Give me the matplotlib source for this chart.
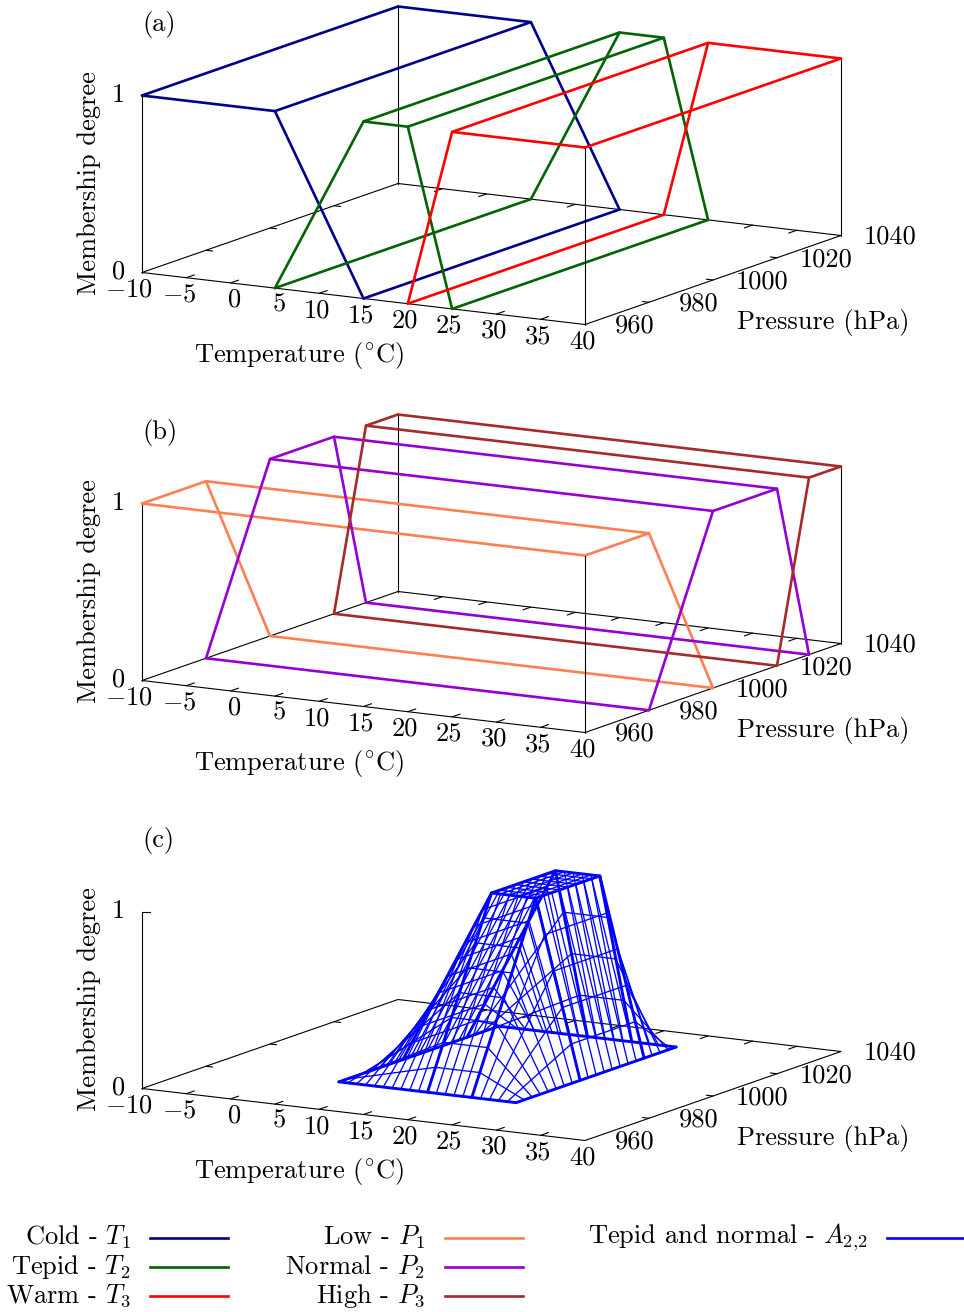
"""
Membership functions for temperature and pressure, and their product surface
"""
import matplotlib
matplotlib.use('Agg')
import matplotlib.pyplot as plt
import numpy as np

plt.rcParams['font.family'] = ['cmr10', 'DejaVu Sans']
plt.rcParams['mathtext.fontset'] = 'cm'
plt.rcParams['axes.unicode_minus'] = False

# Axis ticks
temp_ticks = [-10, -5, 0, 5, 10, 15, 20, 25, 30, 35, 40]
temp_labels = ['$-10$', '$-5$', '0', '5', '10', '15', '20', '25', '30', '35', '40']
pres_ticks = [960, 980, 1000, 1020, 1040]

# Temperature memberships
cold_t = [-10, 5, 15]
cold_mu = [1, 1, 0]
tepid_t = [5, 15, 20, 25]
tepid_mu = [0, 1, 1, 0]
warm_t = [20, 25, 40]
warm_mu = [0, 1, 1]

# Pressure memberships
low_p = [960, 980, 1000]
low_mu = [1, 1, 0]
normal_p = [980, 1000, 1020, 1030]
normal_mu = [0, 1, 1, 0]
high_p = [1020, 1030, 1040]
high_mu = [0, 1, 1]

# Mesh of panel (c)
grid_t = [5, 6, 7, 8, 9, 10, 11, 12, 13, 14, 15, 16, 17, 18, 19, 20, 21, 22, 23, 24, 25]
grid_t_mu = [0, .1, .2, .3, .4, .5, .6, .7, .8, .9, 1, 1, 1, 1, 1, 1, .8, .6, .4, .2, 0]
grid_p = [980, 982.5, 985, 987.5, 990, 992.5, 995, 997.5, 1000, 1002.5, 1005, 1007.5,
          1010, 1012.5, 1015, 1017.5, 1020, 1022.5, 1025, 1027.5, 1030]
grid_p_mu = [0, .125, .25, .375, .5, .625, .75, .875, 1, 1, 1, 1,
             1, 1, 1, 1, 1, .75, .5, .25, 0]
thick_t = [5, 15, 20, 25]
thick_p = [980, 1000, 1020, 1030]

# Legend
names_t = ['Cold - $T_1$', 'Tepid - $T_2$', 'Warm - $T_3$']
cols_t = ['#00008b', '#006400', '#ff0000']
names_p = ['Low - $P_1$', 'Normal - $P_2$', 'High - $P_3$']
cols_p = ['#ff7f50', '#9400d3', '#a52a2a']
name_a = 'Tepid and normal - $A_{2{,}2}$'
col_a = '#0000ff'

FS = 19.05
LW = 1.9
T0, T1 = -10, 40
P0, P1 = 960, 1040


# Oblique projection of (T, P, z) to figure pixels
def project(t, p, z, dy):
    t = np.asarray(t, dtype=float)
    p = np.asarray(p, dtype=float)
    z = np.asarray(z, dtype=float)
    ft = (t - T0) / (T1 - T0)
    fp = (p - P0) / (P1 - P0)
    return 142 + 443 * ft + 256 * fp, 272.5 + dy + 52 * ft - 89 * fp - 177 * z


def line3(ax, t, p, z, dy, **kw):
    x, y = project(t, p, z, dy)
    ax.plot(x, y, solid_capstyle='round', solid_joinstyle='round', **kw)


def frame(ax, dy, label, walls=True):
    k = dict(color='black', lw=0.8, zorder=1)
    line3(ax, [T0, T1, T1, T0, T0], [P0, P0, P1, P1, P0], [0] * 5, dy, **k)
    for t in temp_ticks[1:-1]:
        line3(ax, [t, t], [P0, P0 + 2.5], [0, 0], dy, **k)
        line3(ax, [t, t], [P1, P1 - 2.5], [0, 0], dy, **k)
    for p in pres_ticks[1:-1]:
        line3(ax, [T0, T0 + 0.75], [p, p], [0, 0], dy, **k)
        line3(ax, [T1, T1 - 0.75], [p, p], [0, 0], dy, **k)
    # Membership axis
    line3(ax, [T0, T0], [P0, P0], [0, 1], dy, **k)
    x, y = project(T0, P0, 1, dy)
    ax.plot([x, x + 8], [y, y], **k)
    if walls:
        line3(ax, [T0, T0], [P1, P1], [0, 1], dy, **k)
        line3(ax, [T1, T1], [P1, P1], [0, 1], dy, **k)
        line3(ax, [T1, T1], [P0, P0], [0, 1], dy, color='black', lw=0.8, zorder=4)
    # Tick labels
    for t, s in zip(temp_ticks, temp_labels):
        x, y = project(t, P0, 0, dy)
        ax.text(x + 10.5, y + 17, s, ha='right', va='center', fontsize=FS)
    for p in pres_ticks:
        x, y = project(T1, p, 0, dy)
        ax.text(x + 49.3, y + 1.5, str(p), ha='center', va='center', fontsize=FS)
    x, y = project(T0, P0, 0, dy)
    ax.text(x - 17, y - 1, '0', ha='right', va='center', fontsize=FS)
    ax.text(x - 17, y - 177, '1', ha='right', va='center', fontsize=FS)
    # Axis labels
    ax.text(89, 183.5 + dy, 'Membership degree', rotation=90, ha='center', va='center', fontsize=FS)
    ax.text(299, 355.5 + dy, r'Temperature ($^{\circ}$C)', ha='center', va='center', fontsize=FS)
    ax.text(823.5, 322 + dy, 'Pressure (hPa)', ha='center', va='center', fontsize=FS)
    ax.text(142, 25 + dy, label, ha='left', va='center', fontsize=FS)


def prism_t(ax, t, mu, col, dy):
    for p in (P0, P1):
        line3(ax, t, [p] * len(t), mu, dy, color=col, lw=LW, zorder=3)
    for a, m in zip(t, mu):
        line3(ax, [a, a], [P0, P1], [m, m], dy, color=col, lw=LW, zorder=3)


def prism_p(ax, p, mu, col, dy):
    for t in (T0, T1):
        line3(ax, [t] * len(p), p, mu, dy, color=col, lw=LW, zorder=3)
    for a, m in zip(p, mu):
        line3(ax, [T0, T1], [a, a], [m, m], dy, color=col, lw=LW, zorder=3)


if __name__ == '__main__':
    fig = plt.figure(figsize=(9.64, 13.12), dpi=100)
    ax = fig.add_axes([0, 0, 1, 1])
    ax.set_xlim(0, 964)
    ax.set_ylim(1312, 0)
    ax.axis('off')

    # Panel (a)
    frame(ax, 0, '(a)')
    prism_t(ax, cold_t, cold_mu, cols_t[0], 0)
    prism_t(ax, tepid_t, tepid_mu, cols_t[1], 0)
    prism_t(ax, warm_t, warm_mu, cols_t[2], 0)

    # Panel (b)
    frame(ax, 408, '(b)')
    prism_p(ax, low_p, low_mu, cols_p[0], 408)
    prism_p(ax, normal_p, normal_mu, cols_p[1], 408)
    prism_p(ax, high_p, high_mu, cols_p[2], 408)

    # Panel (c)
    frame(ax, 816, '(c)', walls=False)
    z = np.outer(grid_t_mu, grid_p_mu)
    for i, t in enumerate(grid_t):
        lw = 2.1 if t in thick_t else 0.95
        line3(ax, [t] * len(grid_p), grid_p, z[i, :], 816, color=col_a, lw=lw, zorder=3)
    for j, p in enumerate(grid_p):
        lw = 2.1 if p in thick_p else 0.95
        line3(ax, grid_t, [p] * len(grid_t), z[:, j], 816, color=col_a, lw=lw, zorder=3)

    # Legend
    rows = [1237.5, 1267, 1296]
    for n in range(0, 3):
        ax.text(131, rows[n], names_t[n], ha='right', va='center', fontsize=FS)
        ax.plot([150, 228], [rows[n]] * 2, color=cols_t[n], lw=LW)
        ax.text(425, rows[n], names_p[n], ha='right', va='center', fontsize=FS)
        ax.plot([445, 523], [rows[n]] * 2, color=cols_p[n], lw=LW)
    ax.text(868, rows[0], name_a, ha='right', va='center', fontsize=FS)
    ax.plot([887, 964], [rows[0]] * 2, color=col_a, lw=LW)

    fig.savefig('out.png', dpi=100, facecolor='white')
